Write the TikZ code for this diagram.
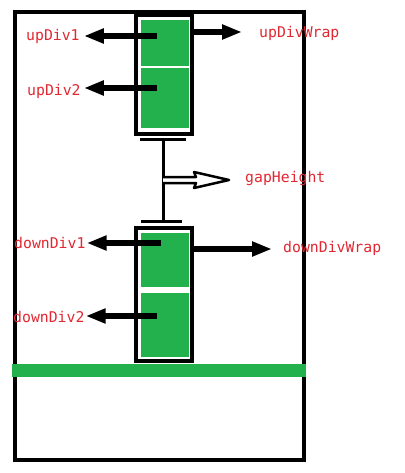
\documentclass[tikz,border=0pt]{standalone}
\usepackage{fontspec}
\setmonofont{DejaVu Sans Mono}
\usetikzlibrary{arrows.meta}
\definecolor{pgreen}{RGB}{34,177,76}
\definecolor{lred}{RGB}{225,40,50}
\begin{document}
\begin{tikzpicture}[x=1pt,y=-1pt,
  lbl/.style={font=\ttfamily\fontsize{14.8}{16}\selectfont, text=lred, inner sep=1pt, anchor=west, text height=10pt, text depth=3pt},
  frame/.style={draw=black, line width=4pt},
  arr/.style={line width=6.5pt, -{Triangle[length=20pt,width=14pt]}},
  gfill/.style={fill=pgreen},
 ]
\useasboundingbox (0,0) rectangle (404,473);
\fill[white] (0,0) rectangle (404,473);
% outer frame
\draw[frame] (15,12) rectangle (304,460);
% upper wrap
\draw[frame] (136,15) rectangle (192,134);
\fill[gfill] (141,20) rectangle (189,128);
\draw[white, line width=1.2pt] (141,67) -- (189,67);
% gap
\draw[line width=3pt] (140,140) -- (186,140);
\draw[line width=3pt] (163,140) -- (163,221);
\draw[line width=3pt] (141,221) -- (182,221);
\draw[line width=2.5pt, fill=white, line join=round] (163,177) -- (196,177) -- (194,172) -- (229,180) -- (194,188) -- (196,183) -- (163,183);
% lower wrap
\draw[frame] (136,228) rectangle (192,361);
\fill[gfill] (141,233) rectangle (189,287);
\fill[gfill] (141,293) rectangle (189,357);
% green band
\fill[gfill] (12,364) rectangle (306,377);
% labels
\node[lbl] (ud1) at (25,37) {upDiv1};
\node[lbl] (ud2) at (26,92) {upDiv2};
\node[lbl] (udw) at (258,34) {upDivWrap};
\node[lbl] (gh) at (244,179) {gapHeight};
\node[lbl] (dd1) at (13,245) {downDiv1};
\node[lbl] (ddw) at (282,249) {downDivWrap};
\node[lbl] (dd2) at (12,319) {downDiv2};
% arrow tails
\coordinate (t1) at (157,36);
\coordinate (t2) at (157,88);
\coordinate (tw) at (193,32);
\coordinate (t3) at (161,243);
\coordinate (tdw) at (193,249);
\coordinate (t4) at (157,316);
\draw[arr, shorten >=3pt] (t1) -- (t1 -| ud1.east);
\draw[arr, shorten >=2pt] (t2) -- (t2 -| ud2.east);
\draw[arr, shorten >=16pt] (tw) -- (tw -| udw.west);
\draw[arr, shorten >=0pt] (t3) -- (t3 -| dd1.east);
\draw[arr, shorten >=10pt] (tdw) -- (tdw -| ddw.west);
\draw[arr, shorten >=0pt] (t4) -- (t4 -| dd2.east);
\end{tikzpicture}
\end{document}
